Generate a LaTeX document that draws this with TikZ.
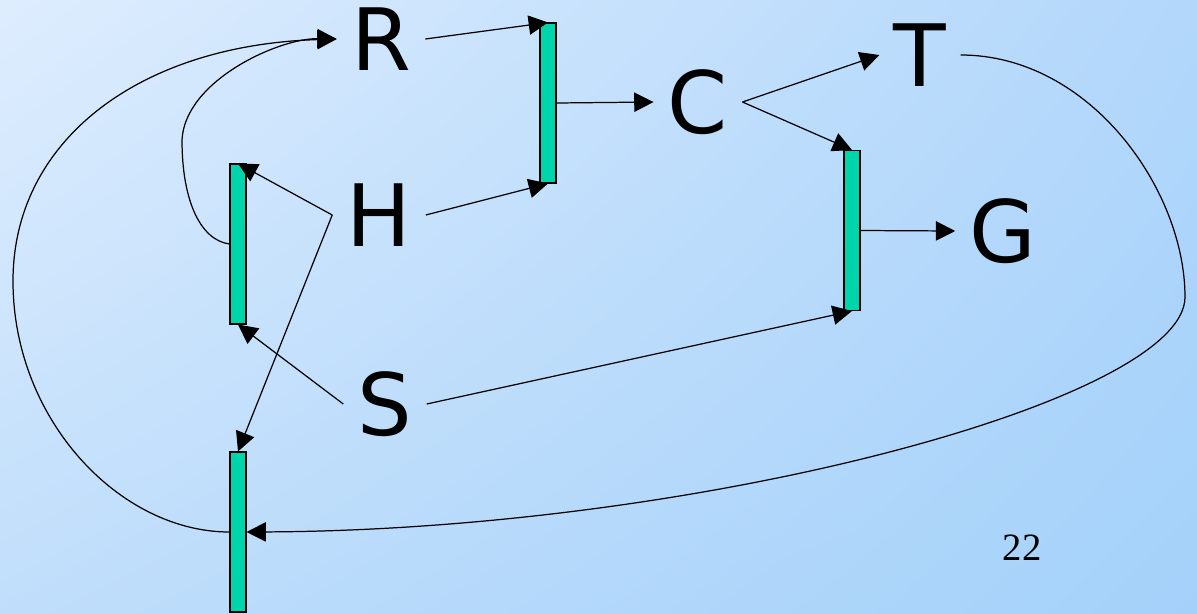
\documentclass[tikz,border=0pt]{standalone}
\usepackage{fontspec}
\newfontfamily\letterfont{DejaVu Sans}
\newfontfamily\pagefont{Liberation Serif}
\usetikzlibrary{arrows.meta,shadings}
\definecolor{barfill}{RGB}{0,212,170}
\definecolor{bgtl}{RGB}{222,237,254}
\definecolor{bgtr}{RGB}{178,215,251}
\definecolor{bgbl}{RGB}{192,222,251}
\definecolor{bgbr}{RGB}{164,209,250}
\tikzset{
  state/.style={inner xsep=8pt, inner ysep=0pt, font=\letterfont\fontsize{49}{49}\selectfont},
  bar/.style={draw, fill=barfill, line width=0.6pt, minimum width=0.32cm, minimum height=3.2cm, inner sep=0pt},
  flow/.style={-{Triangle[length=11pt,width=11pt]}, line width=0.7pt}
}
\begin{document}
\begin{tikzpicture}[x=0.02cm,y=-0.02cm]
\useasboundingbox (0,0) rectangle (1197,613);
\shade[upper left=bgtl, upper right=bgtr, lower left=bgbl, lower right=bgbr] (0,0) rectangle (1197,613);

\node[state] (R) at (381,39) {R};
\node[state] (H) at (379,215) {H};
\node[state] (S) at (385,404) {S};
\node[state] (C) at (698,102) {C};
\node[state] (T) at (920,55) {T};
\node[state] (G) at (1003,231) {G};

\node[bar] (b1) at (548,103) {};
\node[bar] (b2) at (238,244) {};
\node[bar] (b3) at (238,532) {};
\node[bar] (b4) at (852,230.5) {};

\node[font=\pagefont\fontsize{22}{22}\selectfont] (num) at (1022,548) {22};

\draw[flow] (R.east) -- (b1.north);
\draw[flow] (H.east) -- (b1.south);
\draw[flow] (b1.east) -- (C.west);
\draw[flow] (C.east) -- (T.west);
\draw[flow] (C.east) -- (b4.north);
\draw[flow] (b4.east) -- (G.west);
\draw[flow] (S.east) -- (b4.south);
\draw[flow] (H.west) -- (b2.north);
\draw[flow] (H.west) -- (b3.north);
\draw[flow] (S.west) -- (b2.south);

\draw[flow] (b2.west) .. controls (200,240) and (182,200) .. (182,140)
  .. controls (185,80) and (280,38) .. (R.west);
\draw[flow] (b3.west) .. controls (120,532) and (13,420) .. (13,281)
  .. controls (13,140) and (140,45) .. (R.west);
\draw[flow] (T.east) .. controls (1090,55) and (1185,190) .. (1185,297)
  .. controls (1185,400) and (700,530) .. (b3.east);
\end{tikzpicture}
\end{document}
